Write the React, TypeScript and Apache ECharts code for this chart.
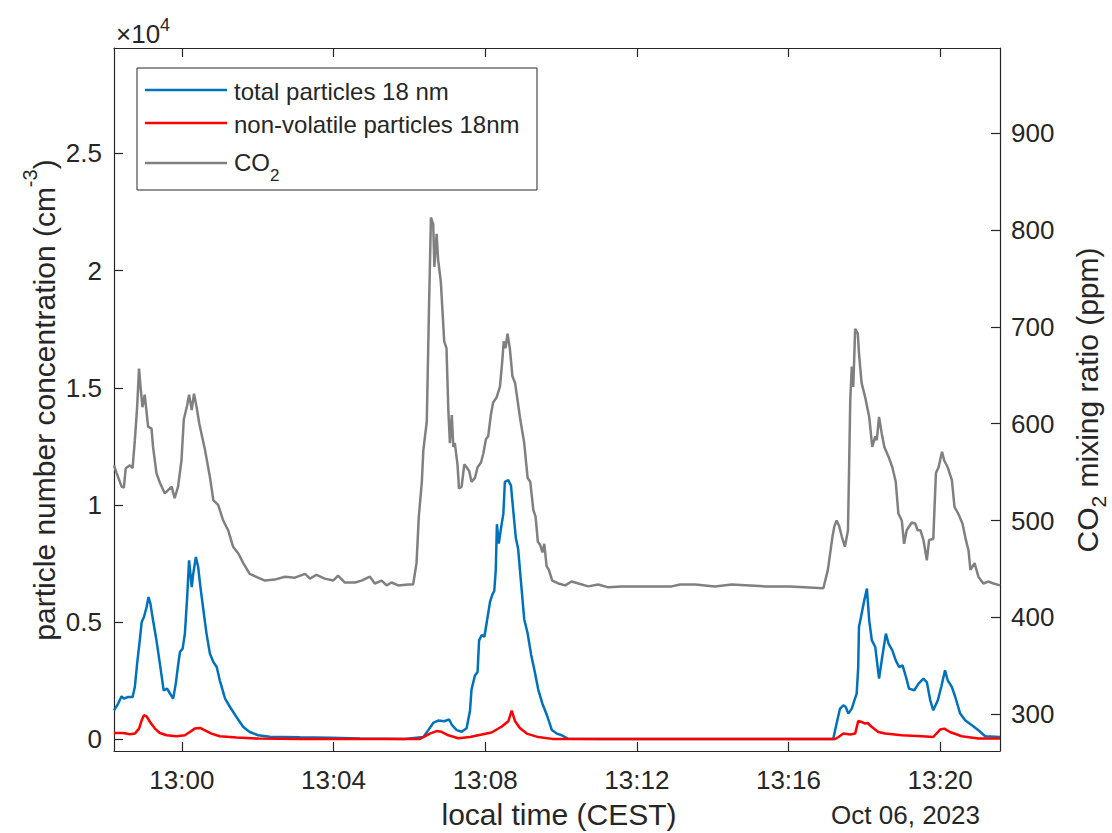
import React, { useEffect, useRef } from "react";
import * as echarts from "echarts";

// ---- axis ticks ----
const timeTicks = [0, 4, 8, 12, 16, 20]; // minutes after 13:00
const leftTicks = [0, 5000, 10000, 15000, 20000, 25000];
const rightTicks = [300, 400, 500, 600, 700, 800, 900];

// ---- CO2 mixing ratio (ppm), time in minutes after 13:00 ----
const co2Min = [
  -1.79, -1.72, -1.59, -1.53, -1.48, -1.37, -1.30, -1.24, -1.18, -1.13,
  -1.09, -1.04, -0.98, -0.89, -0.80, -0.76, -0.67, -0.58, -0.45, -0.27,
  -0.19, -0.10, -0.01, 0.05, 0.14, 0.19, 0.26, 0.32, 0.39, 0.46,
  0.61, 0.74, 0.83, 0.96, 1.09, 1.22, 1.35, 1.49, 1.62, 1.79,
  2.01, 2.19, 2.45, 2.72, 2.98, 3.25, 3.38, 3.55, 3.77, 3.99,
  4.12, 4.30, 4.57, 4.74, 4.96, 5.09, 5.27, 5.40, 5.53, 5.71,
  5.97, 6.10, 6.19, 6.25, 6.33, 6.37, 6.46, 6.52, 6.57, 6.63,
  6.66, 6.72, 6.76, 6.83, 6.92, 6.98, 7.03, 7.07, 7.12, 7.16,
  7.20, 7.27, 7.31, 7.38, 7.45, 7.51, 7.58, 7.64, 7.73, 7.80,
  7.89, 7.95, 8.02, 8.08, 8.15, 8.21, 8.30, 8.39, 8.45, 8.49,
  8.54, 8.59, 8.65, 8.72, 8.79, 8.92, 9.03, 9.12, 9.19, 9.27,
  9.33, 9.39, 9.45, 9.51, 9.56, 9.62, 9.68, 9.77, 9.93, 10.11,
  10.28, 10.46, 10.72, 10.98, 11.25, 11.60, 12.04, 12.48, 12.92, 13.14,
  13.54, 14.06, 14.50, 15.38, 16.04, 16.92, 16.97, 17.04, 17.10, 17.16,
  17.21, 17.27, 17.34, 17.41, 17.49, 17.57, 17.60, 17.63, 17.67, 17.71,
  17.76, 17.83, 17.86, 17.93, 18.02, 18.13, 18.21, 18.29, 18.33, 18.39,
  18.46, 18.53, 18.64, 18.74, 18.83, 18.90, 18.99, 19.05, 19.12, 19.25,
  19.34, 19.41, 19.48, 19.56, 19.65, 19.71, 19.82, 19.89, 19.96, 20.05,
  20.11, 20.20, 20.31, 20.38, 20.48, 20.59, 20.68, 20.75, 20.80, 20.91,
  21.01, 21.14, 21.27, 21.41, 21.58,
];
const co2Ppm = [
  557, 549, 535, 534, 554, 557, 554, 583, 617, 657,
  638, 617, 630, 597, 595, 576, 549, 539, 528, 535,
  523, 535, 562, 604, 619, 630, 614, 631, 617, 600,
  573, 545, 521, 516, 500, 490, 473, 466, 456, 445,
  441, 438, 439, 442, 441, 445, 440, 444, 440, 438,
  443, 436, 436, 438, 442, 435, 438, 433, 436, 433,
  434, 434, 456, 504, 540, 573, 602, 722, 813, 806,
  762, 796, 769, 747, 685, 678, 613, 580, 609, 576,
  580, 558, 533, 535, 558, 555, 551, 540, 544, 555,
  560, 569, 584, 587, 609, 622, 627, 638, 664, 685,
  678, 693, 678, 649, 642, 606, 580, 544, 540, 511,
  504, 478, 475, 467, 476, 453, 449, 438, 435, 433,
  437, 435, 432, 434, 431, 432, 432, 432, 432, 434,
  434, 432, 434, 432, 432, 430, 438, 449, 466, 483,
  494, 500, 494, 483, 473, 490, 555, 624, 659, 638,
  698, 693, 673, 642, 628, 607, 576, 587, 583, 607,
  590, 576, 566, 555, 540, 507, 500, 476, 490, 498,
  497, 490, 490, 480, 459, 480, 481, 549, 555, 571,
  562, 555, 542, 514, 507, 497, 480, 469, 449, 456,
  442, 435, 437, 435, 433,
];

// ---- total particles 18 nm (cm^-3) ----
const totalMin = [
  -1.79, -1.68, -1.59, -1.53, -1.42, -1.30, -1.24, -1.18, -1.11, -1.06,
  -1.00, -0.93, -0.88, -0.83, -0.76, -0.67, -0.58, -0.48, -0.39, -0.32,
  -0.23, -0.16, -0.10, -0.05, 0.02, 0.08, 0.14, 0.19, 0.26, 0.30,
  0.37, 0.43, 0.49, 0.58, 0.65, 0.74, 0.83, 0.92, 1.00, 1.14,
  1.27, 1.44, 1.62, 1.79, 2.01, 2.32, 3.11, 3.91, 4.70, 5.88,
  6.37, 6.50, 6.63, 6.76, 6.92, 7.05, 7.12, 7.25, 7.38, 7.51,
  7.60, 7.64, 7.73, 7.80, 7.84, 7.91, 7.98, 8.04, 8.13, 8.19,
  8.24, 8.28, 8.31, 8.36, 8.42, 8.48, 8.52, 8.61, 8.68, 8.74,
  8.81, 8.87, 8.95, 9.03, 9.12, 9.21, 9.31, 9.40, 9.51, 9.62,
  9.76, 9.89, 10.02, 10.19, 11.03, 13.67, 17.18, 17.27, 17.36, 17.45,
  17.51, 17.58, 17.67, 17.74, 17.80, 17.84, 17.86, 17.93, 18.00, 18.07,
  18.13, 18.20, 18.29, 18.39, 18.46, 18.57, 18.64, 18.74, 18.83, 18.92,
  19.01, 19.10, 19.18, 19.32, 19.43, 19.56, 19.65, 19.74, 19.82, 19.94,
  20.03, 20.13, 20.20, 20.31, 20.40, 20.53, 20.66, 20.84, 21.01, 21.19,
  21.58,
];
const totalCm3 = [
  1237, 1523, 1834, 1736, 1805, 1805, 2231, 3229, 4223, 5004,
  5217, 5644, 6071, 5789, 5077, 4223, 3229, 2090, 2163, 1975,
  1736, 2376, 3157, 3724, 3869, 4509, 6071, 7636, 6497, 7069,
  7777, 7350, 6497, 5362, 4509, 3656, 3298, 3084, 2517, 1736,
  1378, 951, 525, 311, 171, 107, 85, 64, 30, 17,
  94, 392, 695, 798, 768, 845, 619, 392, 320, 469,
  1220, 2120, 2722, 2871, 4223, 4449, 4373, 4974, 5874, 6177,
  6327, 7227, 9180, 8353, 9027, 9628, 10981, 11058, 10831, 9778,
  8579, 8127, 6625, 5124, 4522, 3626, 2871, 2120, 1519, 1071,
  392, 243, 171, 20, 10, 10, 10, 670, 1310, 1450,
  1378, 1096, 1310, 1664, 1950, 3084, 4791, 5362, 5930, 6429,
  5077, 4223, 3937, 2589, 3370, 4509, 4083, 3797, 3370, 3084,
  3157, 2658, 2163, 2090, 2376, 2589, 2444, 1664, 1237, 1664,
  2231, 2944, 2517, 2231, 1805, 1096, 811, 597, 384, 128,
  98,
];

// ---- non-volatile particles 18 nm (cm^-3) ----
const nonvolMin = [
  -1.79, -1.55, -1.37, -1.24, -1.13, -1.06, -1.00, -0.93, -0.84, -0.71,
  -0.58, -0.40, -0.14, 0.08, 0.21, 0.34, 0.48, 0.61, 0.78, 1.00,
  1.44, 2.01, 3.11, 6.28, 6.54, 6.72, 6.85, 7.03, 7.29, 7.60,
  7.91, 8.17, 8.44, 8.61, 8.70, 8.79, 8.92, 9.10, 9.40, 9.76,
  13.67, 17.23, 17.32, 17.45, 17.63, 17.76, 17.84, 17.93, 18.02, 18.09,
  18.20, 18.37, 18.55, 18.99, 19.52, 19.82, 20.00, 20.11, 20.26, 20.57,
  21.01, 21.58,
];
const nonvolCm3 = [
  269, 269, 213, 243, 456, 811, 1024, 981, 738, 456,
  269, 171, 128, 171, 311, 456, 482, 384, 243, 128,
  73, 30, 17, 17, 243, 350, 320, 171, 47, 94,
  200, 290, 546, 768, 1220, 768, 469, 243, 94, 17,
  10, 10, 98, 243, 200, 243, 781, 738, 670, 695,
  525, 311, 243, 171, 128, 98, 414, 456, 311, 128,
  30, 30,
];

const X_MIN = -1.79;
const X_MAX = 21.58;
const FONT = "'Liberation Sans', Arial, Helvetica, sans-serif";
const AX = "#262626";
const BLUE = "#0072BD";
const RED = "#FF0000";
const GRAY = "#808080";
const LW = 2.5;

const zip = (t: number[], v: number[]) =>
  t.slice(0, Math.min(t.length, v.length)).map((x, i) => [x, v[i]]);

export default function App() {
  const ref = useRef<HTMLDivElement>(null);

  useEffect(() => {
    if (!ref.current) return;
    const chart = echarts.init(ref.current, null, { renderer: "svg" });

    const axisLine = { show: true, onZero: false, lineStyle: { color: AX, width: 1.2 } };
    const tick = (vals: number[]) => ({
      show: true,
      inside: true,
      length: 9,
      customValues: vals,
      lineStyle: { color: AX, width: 1.2 },
    });

    const option: any = {
      animation: false,
      textStyle: { fontFamily: FONT },
      grid: { left: 114, right: 112, top: 48, bottom: 82, containLabel: false },
      xAxis: [
        {
          type: "value",
          position: "bottom",
          min: X_MIN,
          max: X_MAX,
          axisLine,
          axisTick: tick(timeTicks),
          axisLabel: {
            customValues: timeTicks,
            formatter: (v: number) => "13:" + String(Math.round(v)).padStart(2, "0"),
            fontSize: 26,
            color: AX,
            fontFamily: FONT,
            margin: 16,
          },
          splitLine: { show: false },
        },
        {
          type: "value",
          position: "top",
          min: X_MIN,
          max: X_MAX,
          axisLine,
          axisTick: tick(timeTicks),
          axisLabel: { show: false },
          splitLine: { show: false },
        },
      ],
      yAxis: [
        {
          type: "value",
          position: "left",
          min: -500,
          max: 29500,
          axisLine,
          axisTick: tick(leftTicks),
          axisLabel: {
            customValues: leftTicks,
            formatter: (v: number) => String(v / 10000),
            fontSize: 26,
            color: AX,
            fontFamily: FONT,
            margin: 12,
          },
          splitLine: { show: false },
        },
        {
          type: "value",
          position: "right",
          min: 262,
          max: 988,
          axisLine,
          axisTick: tick(rightTicks),
          axisLabel: {
            customValues: rightTicks,
            fontSize: 26,
            color: AX,
            fontFamily: FONT,
            margin: 11,
          },
          splitLine: { show: false },
        },
      ],
      series: [
        {
          name: "CO2",
          type: "line",
          xAxisIndex: 0,
          yAxisIndex: 1,
          data: zip(co2Min, co2Ppm),
          symbol: "none",
          showSymbol: false,
          lineStyle: { color: GRAY, width: LW },
          itemStyle: { color: GRAY },
          silent: true,
          z: 2,
        },
        {
          name: "total particles 18 nm",
          type: "line",
          xAxisIndex: 0,
          yAxisIndex: 0,
          data: zip(totalMin, totalCm3),
          symbol: "none",
          showSymbol: false,
          lineStyle: { color: BLUE, width: LW },
          itemStyle: { color: BLUE },
          silent: true,
          z: 3,
        },
        {
          name: "non-volatile particles 18nm",
          type: "line",
          xAxisIndex: 0,
          yAxisIndex: 0,
          data: zip(nonvolMin, nonvolCm3),
          symbol: "none",
          showSymbol: false,
          lineStyle: { color: RED, width: LW },
          itemStyle: { color: RED },
          silent: true,
          z: 4,
        },
      ],
      graphic: [
        {
          type: "text",
          x: 116,
          y: 34,
          style: {
            text: "×10{sup|4}",
            fontSize: 26,
            fontFamily: FONT,
            fill: AX,
            align: "left",
            verticalAlign: "middle",
            lineHeight: 36,
            rich: { sup: { fontSize: 18, lineHeight: 18, verticalAlign: "top", fontFamily: FONT, fill: AX } },
          },
        },
        {
          type: "text",
          x: 44,
          y: 400,
          rotation: Math.PI / 2,
          style: {
            text: "particle number concentration (cm{sup|-3})",
            fontSize: 30,
            fontFamily: FONT,
            fill: AX,
            align: "center",
            verticalAlign: "middle",
            lineHeight: 48,
            rich: { sup: { fontSize: 20, lineHeight: 20, verticalAlign: "top", fontFamily: FONT, fill: AX } },
          },
        },
        {
          type: "text",
          x: 1087,
          y: 400,
          rotation: Math.PI / 2,
          style: {
            text: "CO{sub|2} mixing ratio (ppm)",
            fontSize: 30,
            fontFamily: FONT,
            fill: AX,
            align: "center",
            verticalAlign: "middle",
            lineHeight: 44,
            rich: { sub: { fontSize: 21, lineHeight: 21, verticalAlign: "bottom", fontFamily: FONT, fill: AX } },
          },
        },
        {
          type: "text",
          x: 559,
          y: 814,
          style: {
            text: "local time (CEST)",
            fontSize: 30,
            fontFamily: FONT,
            fill: AX,
            align: "center",
            verticalAlign: "middle",
          },
        },
        {
          type: "text",
          x: 980,
          y: 815,
          style: {
            text: "Oct 06, 2023",
            fontSize: 26,
            fontFamily: FONT,
            fill: AX,
            align: "right",
            verticalAlign: "middle",
          },
        },
        // legend
        {
          type: "rect",
          shape: { x: 137, y: 68, width: 400, height: 122 },
          style: { fill: "#ffffff", stroke: AX, lineWidth: 1 },
          z: 10,
        },
        { type: "line", shape: { x1: 145, y1: 90, x2: 227, y2: 90 }, style: { stroke: BLUE, lineWidth: LW }, z: 11 },
        { type: "line", shape: { x1: 145, y1: 123, x2: 227, y2: 123 }, style: { stroke: RED, lineWidth: LW }, z: 11 },
        { type: "line", shape: { x1: 145, y1: 163, x2: 227, y2: 163 }, style: { stroke: GRAY, lineWidth: LW }, z: 11 },
        {
          type: "text",
          x: 234,
          y: 91,
          z: 11,
          style: { text: "total particles 18 nm", fontSize: 24, fontFamily: FONT, fill: AX, align: "left", verticalAlign: "middle" },
        },
        {
          type: "text",
          x: 234,
          y: 124,
          z: 11,
          style: { text: "non-volatile particles 18nm", fontSize: 24, fontFamily: FONT, fill: AX, align: "left", verticalAlign: "middle" },
        },
        {
          type: "text",
          x: 234,
          y: 162,
          z: 11,
          style: {
            text: "CO{sub|2}",
            fontSize: 24,
            fontFamily: FONT,
            fill: AX,
            align: "left",
            verticalAlign: "middle",
            lineHeight: 44,
            rich: { sub: { fontSize: 17, lineHeight: 17, verticalAlign: "bottom", fontFamily: FONT, fill: AX } },
          },
        },
      ],
    };

    chart.setOption(option);
    return () => chart.dispose();
  }, []);

  return (
    <div
      ref={ref}
      style={{ position: "absolute", left: 0, top: 0, width: 1112, height: 833, background: "#ffffff" }}
    />
  );
}
